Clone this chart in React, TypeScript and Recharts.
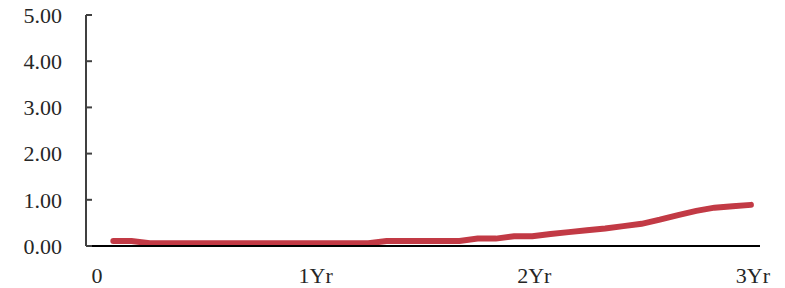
import { LineChart, Line, XAxis, YAxis } from 'recharts';

// months since start (1..36) and the yield values
const months = [
  1, 2, 3, 4, 5, 6, 7, 8, 9, 10, 11, 12,
  13, 14, 15, 16, 17, 18, 19, 20, 21, 22, 23, 24,
  25, 26, 27, 28, 29, 30, 31, 32, 33, 34, 35, 36,
];
const values = [
  0.11, 0.11, 0.06, 0.06, 0.06, 0.06, 0.06, 0.06, 0.06, 0.06, 0.06, 0.06,
  0.06, 0.06, 0.06, 0.11, 0.11, 0.11, 0.11, 0.11, 0.16, 0.16, 0.21, 0.21,
  0.26, 0.3, 0.34, 0.38, 0.43, 0.48, 0.57, 0.67, 0.76, 0.83, 0.86, 0.89,
];
const xTicks = [0, 12, 24, 36];
const xTickLabels = ['0', '1Yr', '2Yr', '3Yr'];
const yTicks = [0, 1, 2, 3, 4, 5];

const data = months.map((m, i) => ({ month: m, value: values[i] }));

const FONT = '"Liberation Serif", "Times New Roman", serif';
const TEXT = '#262626';

// y tick: label on the left, short tick mark pointing into the plot
const YTick = (props: any) => {
  const { x, y, payload } = props;
  const gap = 24;
  return (
    <g>
      <line x1={x + gap} x2={x + gap + 6} y1={y} y2={y} stroke="#404040" strokeWidth={2} />
      <text x={x} y={y} dy="0.355em" textAnchor="end" fill={TEXT} fontSize={22} fontFamily={FONT}>
        {payload.value.toFixed(2)}
      </text>
    </g>
  );
};

export default function App() {
  return (
    <div style={{ width: 785, height: 288 }}>
      <style>{`body { margin: 0; }`}</style>
      <LineChart width={785} height={288} data={data} margin={{ top: 15, right: 25, bottom: 0, left: 0 }}>
        <XAxis
          dataKey="month"
          type="number"
          domain={[-0.5, 36.5]}
          ticks={xTicks}
          tickFormatter={(v: number) => xTickLabels[xTicks.indexOf(v)]}
          height={42}
          axisLine={{ stroke: '#000', strokeWidth: 2 }}
          tickLine={false}
          tickSize={0}
          tickMargin={21}
          tick={{ fill: TEXT, fontSize: 22, fontFamily: FONT, dx: 2 }}
        />
        <YAxis
          domain={[0, 5]}
          ticks={yTicks}
          width={86}
          axisLine={{ stroke: '#404040', strokeWidth: 2 }}
          tickLine={false}
          tickSize={0}
          tickMargin={24}
          tick={<YTick />}
        />
        <Line
          type="linear"
          dataKey="value"
          stroke="#C23A45"
          strokeWidth={6}
          strokeLinecap="round"
          dot={false}
          isAnimationActive={false}
        />
      </LineChart>
    </div>
  );
}
